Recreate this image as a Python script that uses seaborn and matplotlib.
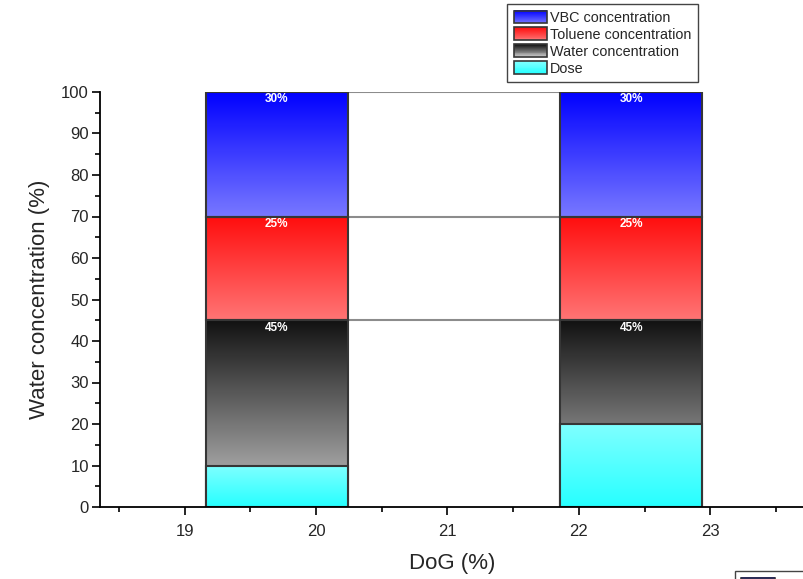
import numpy as np
import matplotlib
matplotlib.use("Agg")
import matplotlib.pyplot as plt
import seaborn as sns
from matplotlib.colors import LinearSegmentedColormap
from matplotlib.patches import Rectangle
from matplotlib.legend_handler import HandlerBase

# data
dog = [19.7, 22.4]
dose = [10, 20]
water = [45, 45]
toluene = [25, 25]
vbc = [30, 30]
series_names = ["VBC concentration", "Toluene concentration", "Water concentration", "Dose"]

sns.set_style("ticks")
plt.rcParams['font.family'] = ['Liberation Sans', 'DejaVu Sans']

# top colour, bottom colour for each series
grads = {
    "VBC concentration": ((0, 0, 1), (0.47, 0.47, 1)),
    "Toluene concentration": ((1, 0.05, 0.05), (1, 0.46, 0.46)),
    "Water concentration": ((0.07, 0.07, 0.07), (0.78, 0.78, 0.78)),
    "Dose": ((0.5, 1, 1), (0.15, 1, 1)),
}
edge = "#363636"
width = 1.08

fig = plt.figure(figsize=(8.04, 5.79), dpi=100)
ax = fig.add_axes([100/804, 72/579, 704/804, 415/579])


def grad_bar(x, bottom, height, name, z):
    top_c, bot_c = grads[name]
    cmap = LinearSegmentedColormap.from_list(name, [bot_c, top_c])
    g = np.linspace(0, 1, 256).reshape(-1, 1)
    for xi, b, h in zip(x, bottom, height):
        ax.imshow(g, extent=[xi - width/2, xi + width/2, b, b + h], origin="lower",
                  aspect="auto", cmap=cmap, zorder=z, interpolation="bilinear")
    ax.bar(x, height, bottom=bottom, width=width, facecolor="none",
           edgecolor=edge, linewidth=1.5, zorder=z + 0.5)


zeros = [0, 0]
grad_bar(dog, zeros, water, "Water concentration", 2)
tol_bottom = list(np.add(zeros, water))
grad_bar(dog, tol_bottom, toluene, "Toluene concentration", 2)
vbc_bottom = list(np.add(tol_bottom, toluene))
grad_bar(dog, vbc_bottom, vbc, "VBC concentration", 2)
grad_bar(dog, zeros, dose, "Dose", 4)

# connecting lines between the bars
x_left = dog[0] + width/2
x_right = dog[1] - width/2
for level in [water[0], tol_bottom[0] + toluene[0], vbc_bottom[0] + vbc[0]]:
    ax.plot([x_left, x_right], [level, level], color="#8c8c8c", lw=1.5, zorder=1)

# percentage labels
for vals, bots in [(water, zeros), (toluene, tol_bottom), (vbc, vbc_bottom)]:
    for xi, v, b in zip(dog, vals, bots):
        ax.text(xi, b + v - 0.35, f"{v}%", ha="center", va="top", color="white",
                fontsize=8.5, fontweight="bold", zorder=6)

ax.set_xlim(18.355, 23.714)
ax.set_ylim(0, 100)
ax.set_xticks([19, 20, 21, 22, 23])
ax.set_xticks(np.arange(18.5, 23.6, 1), minor=True)
ax.set_yticks(np.arange(0, 101, 10))
ax.set_yticks(np.arange(5, 100, 10), minor=True)
ax.tick_params(axis="both", which="major", length=6, width=1.2, labelsize=12, color="black")
ax.tick_params(axis="y", which="major", pad=2)
ax.tick_params(axis="x", which="major", pad=6)
ax.tick_params(axis="both", which="minor", length=3.5, width=1.2, color="black")
ax.set_xlabel("DoG (%)", fontsize=16, labelpad=10)
ax.set_ylabel("Water concentration (%)", fontsize=16, labelpad=8)
sns.despine(ax=ax)
for s in ["left", "bottom"]:
    ax.spines[s].set_linewidth(1.3)
    ax.spines[s].set_color("black")
ax.spines["bottom"].set_zorder(7)


class GradHandler(HandlerBase):
    def create_artists(self, legend, orig_handle, xdescent, ydescent, width, height, fontsize, trans):
        top_c, bot_c = grads[orig_handle.get_label()]
        arts = []
        n = 14
        for i in range(n):
            f = i / (n - 1)
            c = tuple(b + (t - b) * f for t, b in zip(top_c, bot_c))
            r = Rectangle((-xdescent, -ydescent + height * i / n), width, height / n + 0.3,
                          facecolor=c, edgecolor="none", transform=trans)
            arts.append(r)
        arts.append(Rectangle((-xdescent, -ydescent), width, height, facecolor="none",
                              edgecolor=edge, lw=1.2, transform=trans))
        return arts


handles = [Rectangle((0, 0), 1, 1, label=n) for n in series_names]
leg_kw = dict(handler_map={Rectangle: GradHandler()}, fontsize=10.4, frameon=True,
              fancybox=False, edgecolor="#444444", framealpha=1, borderpad=0.45,
              labelspacing=0.17, handlelength=2.3, handleheight=1.0, handletextpad=0.25,
              borderaxespad=0)
leg = fig.legend(handles=handles, loc="upper left", bbox_to_anchor=(507/804, 1 - 4/579), **leg_kw)
leg.get_frame().set_linewidth(1.0)
leg2 = fig.legend(handles=handles, loc="upper left", bbox_to_anchor=(735/804, 1 - 571/579), **leg_kw)
leg2.get_frame().set_linewidth(1.0)

fig.savefig("out.png", dpi=100)
